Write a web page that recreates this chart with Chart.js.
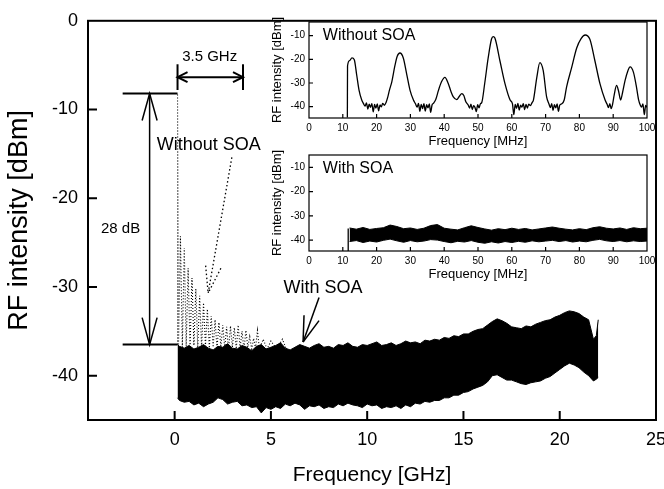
<!DOCTYPE html>
<html>
<head>
<meta charset="utf-8">
<script src="https://cdn.jsdelivr.net/npm/chart.js@4.4.0/dist/chart.umd.min.js"></script>
<style>
html, body { margin: 0; padding: 0; background: #fff; overflow: hidden; }
#wrap { position: relative; width: 664px; height: 489px; overflow: hidden; background: #fff; }
#wrap canvas { position: absolute; }
#main { left: 0; top: 0; }
#inset1 { left: 262px; top: 12px; }
#inset2 { left: 262px; top: 145px; }
</style>
</head>
<body>
<div id="wrap">
<canvas id="main" width="680" height="489"></canvas>
<canvas id="inset1" width="410" height="140"></canvas>
<canvas id="inset2" width="410" height="140"></canvas>
</div>
<script>
// axis ticks
const xTicksGHz = [0, 5, 10, 15, 20, 25];
const yTicksDbm = [0, -10, -20, -30, -40];
const insetXTicks = [0, 10, 20, 30, 40, 50, 60, 70, 80, 90, 100];
const insetYTicks = [-10, -20, -30, -40];

// main spectrum, with SOA: noisy band given by its upper / lower edge
const bandFreq = [
  0.15, 0.25, 0.5, 0.75, 1.0, 1.25, 1.5, 1.75, 2.0, 2.25,
  2.5, 2.75, 3.0, 3.25, 3.5, 3.75, 4.0, 4.25, 4.5, 4.75,
  5.0, 5.25, 5.5, 5.75, 6.0, 6.25, 6.5, 6.75, 7.0, 7.25,
  7.5, 7.75, 8.0, 8.25, 8.5, 8.75, 9.0, 9.25, 9.5, 9.75,
  10.0, 10.25, 10.5, 10.75, 11.0, 11.25, 11.5, 11.75, 12.0, 12.25,
  12.5, 12.75, 13.0, 13.25, 13.5, 13.75, 14.0, 14.25, 14.5, 14.75,
  15.0, 15.25, 15.5, 15.75, 16.0, 16.25, 16.5, 16.75, 17.0, 17.25,
  17.5, 17.75, 18.0, 18.25, 18.5, 18.75, 19.0, 19.25, 19.5, 19.75,
  20.0, 20.25, 20.5, 20.75, 21.0, 21.25, 21.5, 21.75, 21.9, 22.0
];
const bandUpper = [
  -36.5, -36.7, -36.9, -36.6, -37.0, -36.8, -36.5, -36.9, -37.1, -36.7,
  -36.8, -36.4, -36.9, -37.0, -36.6, -36.8, -37.2, -36.7, -36.5, -37.0,
  -36.8, -36.6, -36.3, -36.9, -37.1, -36.8, -36.5, -36.7, -36.9, -36.6,
  -36.4, -36.8, -36.7, -36.9, -36.5, -36.6, -36.3, -36.7, -36.8, -36.5,
  -36.6, -36.4, -36.2, -36.6, -36.5, -36.3, -36.6, -36.4, -36.1, -36.3,
  -36.2, -36.4, -36.0, -36.1, -35.9, -36.0, -35.7, -35.8, -35.5, -35.6,
  -35.3, -35.3, -35.0, -34.8, -34.7, -34.3, -33.9, -33.6, -33.8, -34.1,
  -34.5, -34.6, -34.7, -34.4, -34.5, -34.2, -34.0, -33.8, -33.7, -33.4,
  -33.2, -32.9, -32.7, -32.8, -33.0, -33.4, -33.7, -35.9, -35.5, -33.7
];
const bandLower = [
  -42.5, -42.8, -43.0, -42.9, -43.3, -43.1, -43.5, -43.2, -43.0, -42.5,
  -42.7, -43.2, -43.0, -42.9, -43.4, -43.3, -43.6, -43.5, -44.2, -43.6,
  -43.8, -43.5, -43.7, -43.2, -43.4, -43.1, -43.3, -43.8, -43.4, -43.5,
  -43.3, -43.7, -43.5, -43.6, -43.2, -43.4, -43.1, -43.3, -43.4, -43.6,
  -43.2, -43.4, -43.3, -43.7, -43.5, -43.6, -43.4, -43.7, -43.3, -43.5,
  -43.1, -43.2, -42.9, -43.0, -42.8, -42.8, -42.5, -42.5, -42.2, -42.2,
  -41.9, -41.8, -41.5, -41.3, -41.1, -40.7, -40.0, -39.9, -40.2, -40.5,
  -40.5, -40.7, -40.9, -41.0, -40.8, -40.7, -40.6, -40.3, -40.1, -39.7,
  -39.3, -38.9, -38.6, -38.8, -39.1, -39.6, -40.0, -40.6, -40.4, -40.2
];

// main spectrum, without SOA (dotted trace)
const noSoaFreq = [
  0.15, 0.15, 0.2,
  0.3, 0.4, 0.5, 0.6, 0.7, 0.8, 0.9, 1.0, 1.1, 1.2,
  1.3, 1.4, 1.5, 1.6, 1.7, 1.8, 1.9, 2.0, 2.1, 2.2,
  2.3, 2.4, 2.5, 2.6, 2.7, 2.8, 2.9, 3.0, 3.1, 3.2,
  3.3, 3.4, 3.5, 3.6, 3.7, 3.8, 3.9, 4.0, 4.1, 4.2,
  4.3, 4.4,
  4.6, 4.8, 5.0, 5.3, 5.6, 5.8
];
const noSoaLevel = [
  -36.5, -8.2, -36.6,
  -24.3, -36.8, -25.6, -36.7, -27.9, -36.9, -29.0, -36.6, -30.2, -36.8,
  -31.0, -36.9, -31.8, -36.7, -32.5, -36.9, -33.3, -36.8, -33.7, -37.0,
  -34.0, -36.8, -34.3, -36.9, -34.5, -37.1, -34.4, -36.8, -34.6, -37.0,
  -34.3, -36.9, -35.0, -37.1, -34.9, -36.8, -35.6, -37.0, -35.8, -36.9,
  -34.9, -37.0,
  -35.9, -37.0, -36.1, -37.0, -35.9, -37.0
];

// inset 1: without SOA, 0-100 MHz
const inset1Freq = [
  11.35, 11.4, 12.0, 12.7, 13.4, 14.1, 14.8, 15.6, 16.1, 16.6,
  17.0, 17.4, 17.8, 18.2, 18.6, 19.0, 19.4, 19.8, 20.2, 20.6,
  21.0, 21.4, 21.8, 22.3, 22.8, 23.3, 23.8, 24.5, 25.4, 26.1,
  26.9, 27.9, 28.9, 29.9, 30.9, 31.5, 32.0, 32.4, 32.8, 33.2,
  33.6, 34.0, 34.4, 34.8, 35.2, 35.6, 36.0, 36.4, 36.8, 37.5,
  38.3, 39.2, 40.2, 41.2, 42.0, 42.7, 43.7, 44.5, 45.2, 45.8,
  46.4, 47.1, 47.5, 47.9, 48.3, 48.7, 49.1, 49.5, 49.9, 50.3,
  50.7, 51.1, 52.0, 53.0, 54.0, 54.5, 55.0, 56.5, 58.0, 59.5,
  60.2, 60.6, 61.0, 61.4, 61.8, 62.2, 62.6, 63.0, 63.4, 63.8,
  64.2, 64.6, 65.0, 65.5, 66.0, 66.4, 67.4, 68.3, 69.3, 70.3,
  71.0, 71.4, 71.8, 72.2, 72.6, 73.0, 73.4, 73.8, 74.2, 74.8,
  75.5, 76.2, 77.7, 79.2, 80.5, 81.7, 83.1, 84.6, 86.1, 87.6,
  88.2, 88.6, 89.0, 89.4, 89.8, 90.3, 91.0, 91.6, 92.2, 92.8,
  93.5, 94.3, 95.0, 96.0, 96.8, 97.5, 98.0, 98.4, 98.8, 99.2,
  99.6, 100.0
];
const inset1Level = [
  -44.6, -22.8, -20.5, -19.4, -20.2, -26.5, -33.0, -37.2, -38.6, -39.8,
  -38.4, -41.0, -38.9, -40.3, -38.7, -42.2, -39.1, -40.6, -38.8, -41.8,
  -39.3, -40.1, -38.6, -39.4, -38.2, -36.0, -33.0, -29.5, -22.8, -18.7,
  -17.3, -19.4, -26.2, -33.1, -37.2, -38.8, -40.2, -38.6, -42.0, -39.0,
  -40.8, -38.7, -41.9, -39.2, -40.5, -38.8, -42.4, -39.3, -38.6, -37.0,
  -33.1, -29.5, -27.6, -30.2, -33.6, -35.9, -37.0, -35.6, -34.5, -35.3,
  -37.9, -39.3, -40.6, -38.9, -41.2, -39.6, -40.3, -42.1, -39.2, -40.5,
  -38.8, -38.3, -30.0, -19.5, -11.4, -10.4, -11.0, -20.7, -30.4, -37.2,
  -38.8, -43.4, -39.1, -40.7, -38.6, -41.5, -39.4, -40.2, -38.7, -41.3,
  -39.0, -40.6, -38.9, -39.6, -38.3, -37.2, -27.6, -21.4, -24.8, -35.9,
  -38.9, -40.4, -38.7, -41.6, -39.2, -40.5, -38.8, -42.0, -39.3, -38.8,
  -37.2, -31.7, -23.5, -15.2, -11.2, -9.7, -11.5, -20.7, -30.4, -37.2,
  -39.0, -40.4, -38.7, -40.8, -39.1, -35.0, -31.0, -33.5, -37.2, -33.8,
  -29.0, -25.0, -23.2, -25.5, -31.0, -37.0, -39.3, -40.2, -38.8, -43.4,
  -39.5, -40.3
];

// inset 2: with SOA, 0-100 MHz (noisy band)
const inset2Freq = [
  12, 14, 16, 18, 20, 22, 24, 26, 28, 30,
  32, 34, 36, 38, 40, 42, 44, 46, 48, 50,
  52, 54, 56, 58, 60, 62, 64, 66, 68, 70,
  72, 74, 76, 78, 80, 82, 84, 86, 88, 90,
  92, 94, 96, 98, 100
];
const inset2Upper = [
  -35.0, -35.5, -34.8, -35.6, -35.2, -34.9, -33.8, -34.4, -35.3, -35.0,
  -35.6, -35.1, -34.0, -33.6, -35.1, -35.5, -35.8, -34.9, -34.1, -34.8,
  -35.4, -35.9, -35.3, -35.7, -35.1, -35.6, -35.2, -35.8, -35.4, -35.0,
  -34.6, -35.1, -35.5, -35.8, -35.3, -35.7, -34.9, -34.5, -35.1, -35.4,
  -35.0, -35.6, -34.9, -35.3, -35.1
];
const inset2Lower = [
  -40.6, -40.2, -41.0, -40.4, -40.8, -40.1, -39.6, -40.3, -40.9, -40.2,
  -40.7, -40.4, -39.8, -40.0, -40.6, -41.1, -40.5, -40.8, -40.2, -40.9,
  -41.3, -40.7, -41.2, -40.6, -41.0, -40.5, -40.9, -40.3, -40.7, -40.4,
  -40.1, -40.6, -40.2, -40.8, -40.4, -40.7, -40.1, -39.7, -40.3, -40.6,
  -40.2, -40.7, -40.3, -40.6, -40.4
];
const inset2EdgeFreq = [11.6, 11.6];
const inset2EdgeLevel = [-44.5, -35.2];

Chart.defaults.font.family = "'Liberation Sans', Arial, Helvetica, sans-serif";
Chart.defaults.color = '#000';

const pts = (xs, ys) => xs.map((x, i) => ({x: x, y: ys[i]}));

function line(ctx, x, y, x1, y1, x2, y2) {
  ctx.beginPath();
  ctx.moveTo(x.getPixelForValue(x1), y.getPixelForValue(y1));
  ctx.lineTo(x.getPixelForValue(x2), y.getPixelForValue(y2));
  ctx.stroke();
}

// open arrow head at (x2,y2) coming from (x1,y1), sizes in pixels
function head(ctx, x, y, x1, y1, x2, y2, len, half) {
  const fx = x.getPixelForValue(x1), fy = y.getPixelForValue(y1);
  const tx = x.getPixelForValue(x2), ty = y.getPixelForValue(y2);
  const a = Math.atan2(ty - fy, tx - fx);
  const bx = tx - len * Math.cos(a), by = ty - len * Math.sin(a);
  ctx.beginPath();
  ctx.moveTo(bx + half * Math.sin(a), by - half * Math.cos(a));
  ctx.lineTo(tx, ty);
  ctx.lineTo(bx - half * Math.sin(a), by + half * Math.cos(a));
  ctx.stroke();
}

function text(ctx, x, y, str, vx, vy, size, align) {
  ctx.font = size + "px 'Liberation Sans', Arial, sans-serif";
  ctx.textAlign = align || 'center';
  ctx.textBaseline = 'middle';
  ctx.fillText(str, x.getPixelForValue(vx), y.getPixelForValue(vy));
}

function framePlugin(id, lw, tick, extra) {
  return {
    id: id,
    afterDraw(chart) {
      const ctx = chart.ctx;
      const a = chart.chartArea;
      const x = chart.scales.x, y = chart.scales.y;
      ctx.save();
      ctx.strokeStyle = '#000';
      ctx.fillStyle = '#000';
      ctx.lineWidth = lw;
      ctx.strokeRect(a.left, a.top, a.right - a.left, a.bottom - a.top);
      ctx.beginPath();
      x.ticks.forEach(t => {
        if (t.value <= x.min || t.value >= x.max) return;
        const px = x.getPixelForValue(t.value);
        ctx.moveTo(px, a.bottom);
        ctx.lineTo(px, a.bottom - tick);
      });
      y.ticks.forEach(t => {
        if (t.value <= y.min || t.value >= y.max) return;
        const py = y.getPixelForValue(t.value);
        ctx.moveTo(a.left, py);
        ctx.lineTo(a.left + tick, py);
      });
      ctx.stroke();
      if (extra) extra(ctx, x, y);
      ctx.restore();
    }
  };
}

function mainNotes(ctx, x, y) {
  // 28 dB marker
  ctx.lineWidth = 2;
  line(ctx, x, y, -2.7, -8.2, 0.15, -8.2);
  line(ctx, x, y, -2.7, -36.5, 0.15, -36.5);
  ctx.lineWidth = 1.5;
  line(ctx, x, y, -1.3, -8.2, -1.3, -36.5);
  head(ctx, x, y, -1.3, -20, -1.3, -8.2, 27, 7.5);
  head(ctx, x, y, -1.3, -20, -1.3, -36.5, 27, 7.5);
  text(ctx, x, y, '28 dB', -2.81, -23.5, 15);

  // 3.5 GHz span
  ctx.lineWidth = 2;
  line(ctx, x, y, 0.15, -4.9, 0.15, -7.8);
  line(ctx, x, y, 3.55, -4.9, 3.55, -7.8);
  line(ctx, x, y, 0.15, -6.35, 3.55, -6.35);
  head(ctx, x, y, 1.8, -6.35, 0.15, -6.35, 10, 5);
  head(ctx, x, y, 1.8, -6.35, 3.55, -6.35, 10, 5);
  text(ctx, x, y, '3.5 GHz', 1.82, -4.1, 15);

  // labels and pointers
  text(ctx, x, y, 'Without SOA', 1.77, -14.0, 18);
  ctx.lineWidth = 1.3;
  ctx.setLineDash([1.5, 2.5]);
  line(ctx, x, y, 2.97, -15.4, 1.74, -30.7);
  line(ctx, x, y, 1.61, -27.6, 1.74, -30.7);
  line(ctx, x, y, 2.40, -27.9, 1.74, -30.7);
  ctx.setLineDash([]);

  text(ctx, x, y, 'With SOA', 7.71, -30.1, 18);
  ctx.lineWidth = 1.5;
  line(ctx, x, y, 7.5, -31.2, 6.67, -36.2);
  line(ctx, x, y, 6.72, -33.2, 6.67, -36.2);
  line(ctx, x, y, 7.5, -33.8, 6.67, -36.2);
}

function setTicks(values) {
  return s => { s.ticks = values.map(v => ({value: v})); };
}

new Chart(document.getElementById('main'), {
  type: 'line',
  data: {
    datasets: [
      { data: pts(noSoaFreq, noSoaLevel), borderColor: '#000', borderWidth: 1.1,
        borderDash: [1, 2], pointRadius: 0, fill: false },
      { data: pts(bandFreq, bandUpper), borderColor: '#000', backgroundColor: '#000',
        borderWidth: 1, pointRadius: 0, fill: '+1' },
      { data: pts(bandFreq, bandLower), borderColor: '#000', borderWidth: 1,
        pointRadius: 0, fill: false }
    ]
  },
  options: {
    responsive: false,
    animation: false,
    events: [],
    layout: { padding: { left: 0, top: 12, right: 24, bottom: 0 } },
    plugins: { legend: { display: false }, tooltip: { enabled: false } },
    scales: {
      x: {
        type: 'linear', min: -4.5, max: 25,
        afterBuildTicks: setTicks(xTicksGHz),
        afterFit: s => { s.height = 69; },
        grid: { display: false, drawTicks: false },
        border: { display: false },
        ticks: { font: { size: 18 }, padding: 9, maxRotation: 0, autoSkip: false },
        title: { display: true, text: 'Frequency [GHz]', font: { size: 21 },
                 padding: { top: 0, bottom: 1 } }
      },
      y: {
        min: -45, max: 0,
        afterBuildTicks: setTicks(yTicksDbm),
        afterFit: s => { s.width = 88; },
        grid: { display: false, drawTicks: false },
        border: { display: false },
        ticks: { font: { size: 18 }, padding: 10 },
        title: { display: true, text: 'RF intensity [dBm]', font: { size: 27 },
                 padding: { top: 3, bottom: 0 } }
      }
    }
  },
  plugins: [framePlugin('mainFrame', 2, 9, mainNotes)]
});

function insetOptions(yMin, yMax) {
  return {
    responsive: false,
    animation: false,
    events: [],
    layout: { padding: { left: 0, top: 8, right: 25, bottom: 0 } },
    plugins: { legend: { display: false }, tooltip: { enabled: false } },
    scales: {
      x: {
        type: 'linear', min: 0, max: 100,
        afterBuildTicks: setTicks(insetXTicks),
        afterFit: s => { s.height = 34; },
        grid: { display: false, drawTicks: false },
        border: { display: false },
        ticks: { font: { size: 10 }, padding: 4, maxRotation: 0, autoSkip: false },
        title: { display: true, text: 'Frequency [MHz]', font: { size: 13 },
                 padding: { top: 0, bottom: 3 } }
      },
      y: {
        min: yMin, max: yMax,
        afterBuildTicks: setTicks(insetYTicks),
        afterFit: s => { s.width = 47; },
        grid: { display: false, drawTicks: false },
        border: { display: false },
        ticks: { font: { size: 10 }, padding: 4 },
        title: { display: true, text: 'RF intensity [dBm]', font: { size: 13 },
                 padding: { top: 8, bottom: 0 } }
      }
    }
  };
}

new Chart(document.getElementById('inset1'), {
  type: 'line',
  data: {
    datasets: [
      { data: pts(inset1Freq, inset1Level), borderColor: '#000', borderWidth: 1.3,
        pointRadius: 0, fill: false, cubicInterpolationMode: 'monotone' }
    ]
  },
  options: insetOptions(-44.8, -4.2),
  plugins: [framePlugin('inset1Frame', 1.2, 4, (ctx, x, y) => {
    text(ctx, x, y, 'Without SOA', 4.1, -10, 16, 'left');
  })]
});

new Chart(document.getElementById('inset2'), {
  type: 'line',
  data: {
    datasets: [
      { data: pts(inset2EdgeFreq, inset2EdgeLevel), borderColor: '#000', borderWidth: 1.3,
        pointRadius: 0, fill: false },
      { data: pts(inset2Freq, inset2Upper), borderColor: '#000', backgroundColor: '#000',
        borderWidth: 1, pointRadius: 0, fill: '+1' },
      { data: pts(inset2Freq, inset2Lower), borderColor: '#000', borderWidth: 1,
        pointRadius: 0, fill: false }
    ]
  },
  options: insetOptions(-44.5, -4.9),
  plugins: [framePlugin('inset2Frame', 1.2, 4, (ctx, x, y) => {
    text(ctx, x, y, 'With SOA', 4.1, -10.7, 16, 'left');
  })]
});
</script>
</body>
</html>
